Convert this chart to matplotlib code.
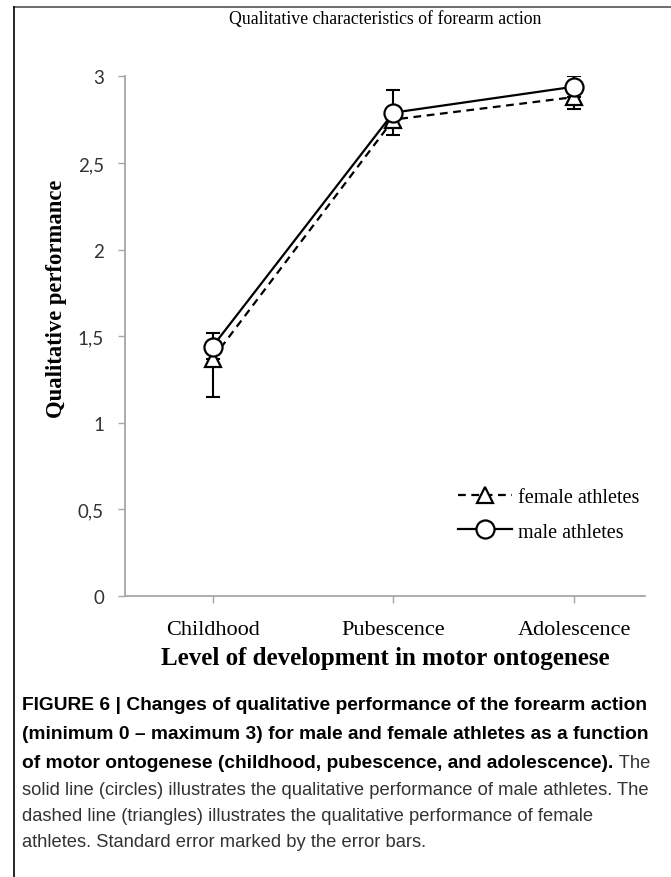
import matplotlib
matplotlib.use("Agg")
import matplotlib.pyplot as plt
from matplotlib.lines import Line2D

# values
stages = ["Childhood", "Pubescence", "Adolescence"]
male = [1.44, 2.79, 2.94]
male_se = [0.08, 0.13, 0.06]
female = [1.37, 2.75, 2.88]
female_se = [0.22, 0.09, 0.07]
yticks = [0, 0.5, 1, 1.5, 2, 2.5, 3]
ytick_labels = ["0", "0,5", "1", "1,5", "2", "2,5", "3"]

caption_bold = [
    "FIGURE 6 | Changes of qualitative performance of the forearm action",
    "(minimum 0 \u2013 maximum 3) for male and female athletes as a function",
    "of motor ontogenese (childhood, pubescence, and adolescence).",
]
caption_rest = [
    " The",
    "solid line (circles) illustrates the qualitative performance of male athletes. The",
    "dashed line (triangles) illustrates the qualitative performance of female",
    "athletes. Standard error marked by the error bars.",
]

serif = "Liberation Serif"
sans = "Liberation Sans"

fig = plt.figure(figsize=(6.71, 8.78), dpi=100)
ax = fig.add_axes([0.186, 0.320, 0.775, 0.592])

x = list(range(len(stages)))

ax.errorbar(x, female, yerr=[female_se, [0, 0, 0]], fmt="none", ecolor="black",
            elinewidth=1.5, capsize=5, capthick=1.5, zorder=2)
ax.errorbar(x, male, yerr=[[0, 0, 0], male_se], fmt="none", ecolor="black",
            elinewidth=1.5, capsize=5, capthick=1.5, zorder=2)
ax.plot(x, female, linestyle=(0, (3.5, 2.5)), color="black", lw=1.6,
        marker="^", markersize=11, markerfacecolor="white", markeredgewidth=1.6,
        label="female athletes", zorder=3)
ax.plot(x, male, linestyle="-", color="black", lw=1.6,
        marker="o", markersize=13, markerfacecolor="white", markeredgewidth=1.6,
        label="male athletes", zorder=4)

ax.set_xlim(-0.485, 2.39)
ax.set_ylim(0, 3)
ax.set_xticks(x)
ax.set_xticklabels(stages, family=serif, fontsize=16)
ax.set_yticks(yticks)
ax.set_yticklabels(ytick_labels, family="Lato", fontsize=13.5, color="#333333")

for side in ["top", "right"]:
    ax.spines[side].set_visible(False)
for side in ["left", "bottom"]:
    ax.spines[side].set_color("#a6a6a6")
    ax.spines[side].set_linewidth(1.3)
ax.tick_params(axis="both", direction="out", length=5, width=1, color="#a6a6a6")
ax.tick_params(axis="x", pad=12)
ax.tick_params(axis="y", pad=10)

ax.set_title("Qualitative characteristics of forearm action", family=serif,
             fontsize=12.8, pad=38)
ax.set_ylabel("Qualitative performance", family=serif, fontsize=16.3,
              fontweight="bold")
ax.yaxis.set_label_coords(-0.112, 0.573)
ax.set_xlabel("Level of development in motor ontogenese", family=serif,
              fontsize=18, fontweight="bold", labelpad=5)

leg = ax.legend(loc="lower right", bbox_to_anchor=(1.025, 0.07), frameon=False,
                prop={"family": serif, "size": 14.5}, handlelength=2.7,
                labelspacing=0.75, handletextpad=0.3)

# figure frame
fig.add_artist(Line2D([0.021, 1.0], [0.991, 0.991], color="#555555", lw=1.2))
fig.add_artist(Line2D([0.021, 0.021], [0.0, 0.991], color="black", lw=1.2))

# caption
line_y = [0.191, 0.158, 0.125]
for txt, yy in zip(caption_bold, line_y):
    t = fig.text(0.033, yy, txt, family=sans, fontsize=13.8, fontweight="bold",
                 color="black", va="baseline")
ax.annotate(caption_rest[0], xy=(1, 0), xycoords=t, xytext=(0, 0),
            textcoords="offset points", family=sans, fontsize=13.2,
            color="#333333", va="bottom", annotation_clip=False)
rest_y = [0.0945, 0.065, 0.035]
for txt, yy in zip(caption_rest[1:], rest_y):
    fig.text(0.033, yy, txt, family=sans, fontsize=13.2, color="#333333",
             va="baseline")

fig.savefig("out.png", dpi=100)
